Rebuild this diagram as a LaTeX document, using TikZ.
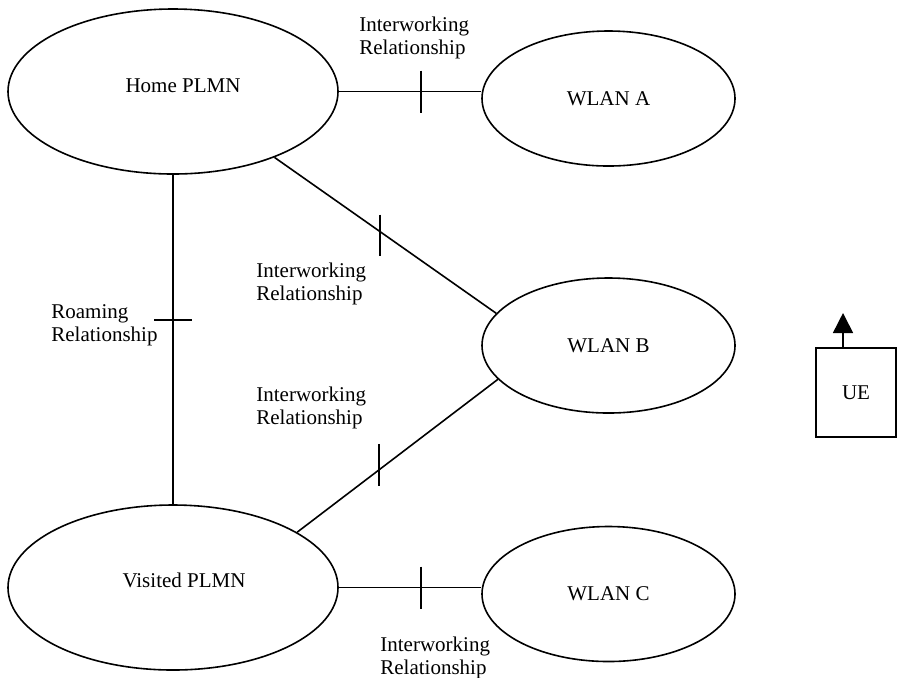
\documentclass[tikz,border=0pt]{standalone}
\usepackage{fontspec}
\setmainfont{Liberation Serif}
\usetikzlibrary{shapes.geometric,arrows.meta,calc}
\newcommand{\twoline}[2]{\begin{tabular}[t]{@{}l@{}}#1\\#2\end{tabular}}
\begin{document}
\begin{tikzpicture}[x=0.5pt,y=-0.5pt,
  every node/.style={font=\fontsize{10.5}{11.75}\selectfont},
  bignet/.style={draw,ellipse,line width=0.8pt,inner sep=0pt,minimum width=165pt,minimum height=82.5pt},
  wlan/.style={draw,ellipse,line width=0.8pt,inner sep=0pt,minimum width=126.5pt,minimum height=67.5pt},
  link/.style={line width=0.8pt},
  lbl/.style={anchor=base west,inner sep=0pt},
  uebox/.style={draw,rectangle,line width=0.8pt,minimum width=40pt,minimum height=44.5pt,inner sep=0pt}]
\useasboundingbox (0,0) rectangle (898,677);

% networks
\node[bignet] (home) at (173,91.5) {};
\node (homet) at (183,86) {Home PLMN};
\node[bignet] (visited) at (173,587.5) {};
\node (visitedt) at (184,580) {Visited PLMN};
\node[wlan] (wlana) at (608.5,98.5) {WLAN A};
\node[wlan] (wlanb) at (608.5,345.5) {WLAN B};
\node[wlan] (wlanc) at (608.5,594) {WLAN C};

% UE
\node[uebox] (ue) at (856,392.5) {UE};
\coordinate (uetip) at (843,313);
\draw[link,-{Triangle[width=10pt,length=10pt]}] (ue.north -| uetip) -- (uetip);

% connectors with ticks
\draw[link] (home.east) -- coordinate[pos=0.576] (ta) (home.east -| wlana.west);
\draw[link] ($(ta)+(0,-21)$) -- ($(ta)+(0,21)$);

\draw[link] (home.-33.9) -- coordinate[pos=0.476] (tb) (wlanb.164.2);
\draw[link] ($(tb)+(0,-17)$) -- ($(tb)+(0,24)$);

\draw[link] (home.south) -- coordinate[pos=0.441] (tc) (visited.north);
\draw[link] ($(tc)+(-19,0)$) -- ($(tc)+(19,0)$);

\draw[link] (visited.24.5) -- coordinate[pos=0.408] (td) (wlanb.197.3);
\draw[link] ($(td)+(0,-26)$) -- ($(td)+(0,16)$);

\draw[link] (visited.east) -- coordinate[pos=0.576] (te) (visited.east -| wlanc.west);
\draw[link] ($(te)+(0,-21)$) -- ($(te)+(0,21)$);

% labels
\node[lbl] (la) at (359,31) {\twoline{Interworking}{Relationship}};
\node[lbl] (lb) at (256,277) {\twoline{Interworking}{Relationship}};
\node[lbl] (lc) at (51,318) {\twoline{Roaming}{Relationship}};
\node[lbl] (ld) at (256,401) {\twoline{Interworking}{Relationship}};
\node[lbl] (le) at (380,651) {\twoline{Interworking}{Relationship}};
\end{tikzpicture}
\end{document}
